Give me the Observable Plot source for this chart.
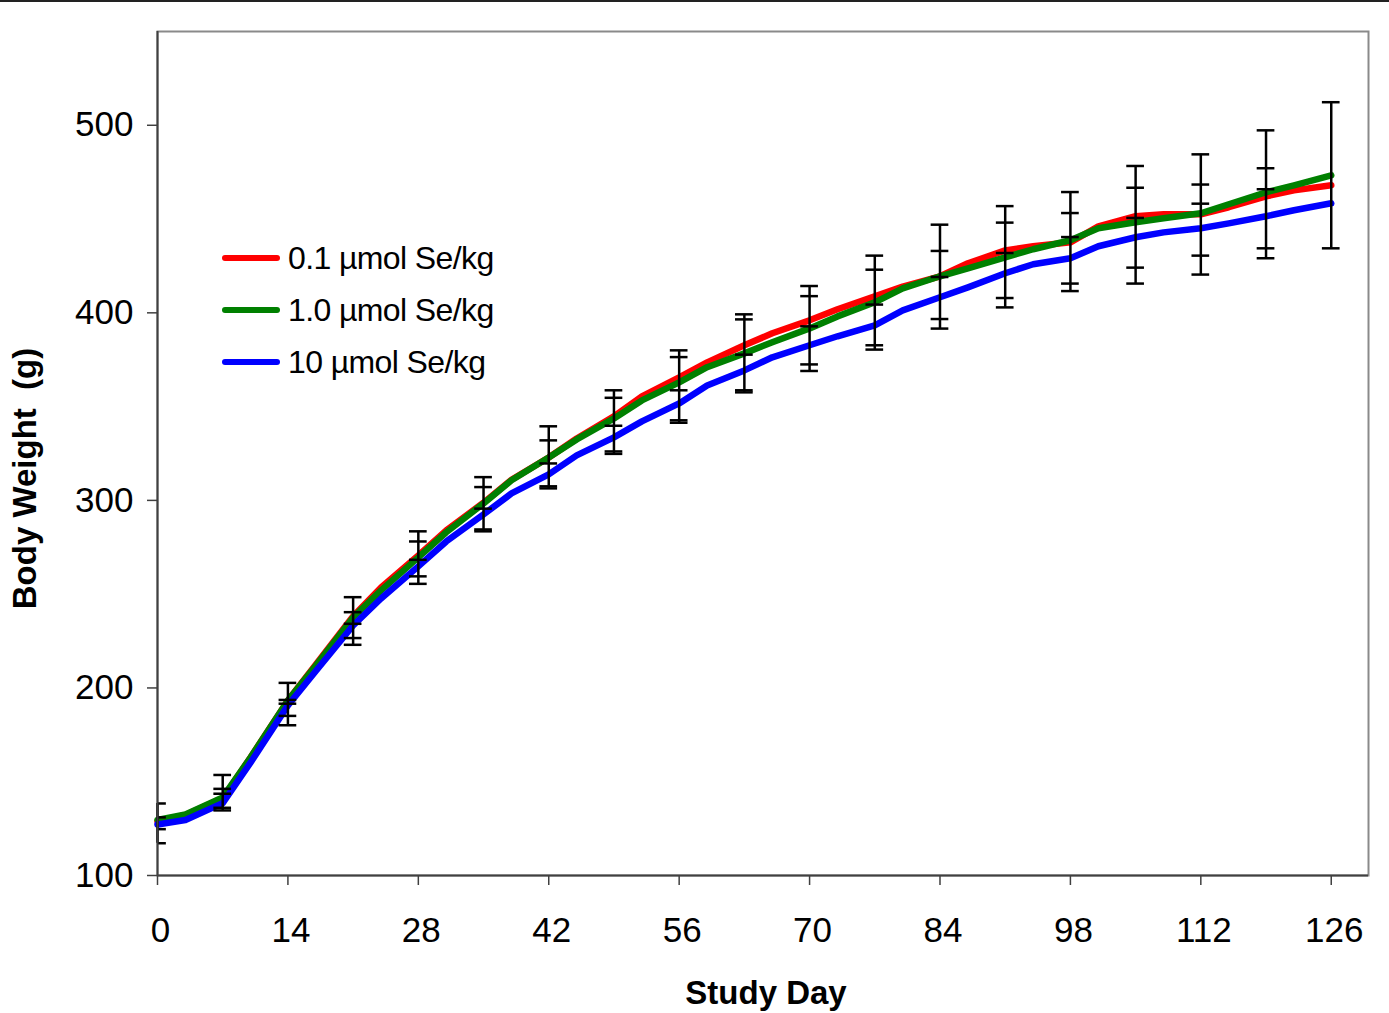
<!DOCTYPE html>
<html>
<head>
<meta charset="utf-8">
<script src="https://cdn.jsdelivr.net/npm/d3@7"></script>
<script src="https://cdn.jsdelivr.net/npm/@observablehq/plot@0.6"></script>
<style>
  body { margin: 0; background: #fff; }
  #wrap { position: relative; width: 1389px; height: 1013px; font-family: "Liberation Sans", Arial, sans-serif; overflow: hidden; }
  #topline { position: absolute; left: 0; top: 0; width: 1389px; height: 2px; background: #222; }
  #legend { position: absolute; left: 222px; top: 232px; }
  .row { display: flex; align-items: center; height: 52px; }
  .sw { width: 58px; height: 6px; border-radius: 3px; margin-right: 8px; }
  .lab { font-size: 32px; letter-spacing: -0.6px; color: #000; white-space: pre; }
</style>
</head>
<body>
<div id="wrap"><div id="chart"></div><div id="topline"></div><div id="legend"></div></div>
<script>
// ---- data ----
const days = [0,3,7,10,14,17,21,24,28,31,35,38,42,45,49,52,56,59,63,66,70,73,77,80,84,87,91,94,98,101,105,108,112,115,119,122,126];
const seRed   = [128.8,132.3,141.2,163.0,193.3,212.5,238.2,253.6,270.7,284.0,298.8,311.0,322.9,333.0,344.8,355.5,365.6,373.6,382.7,389.1,396.0,401.9,408.8,414.0,419.5,426.4,433.3,435.5,437.6,446.1,451.5,452.5,452.5,456.3,462.1,465.3,468.0];
const seGreen = [129.6,132.5,141.6,163.0,193.3,212.0,237.6,252.0,269.6,283.0,298.4,310.7,322.9,332.5,343.7,353.3,362.9,371.0,378.4,384.3,391.7,398.1,405.6,413.0,419.5,423.7,429.6,433.9,438.7,445.1,448.3,450.4,453.1,457.9,464.3,468.0,473.3];
const seBlue  = [127.2,129.6,138.6,160.3,190.7,209.0,233.3,247.7,264.8,278.1,292.5,303.7,313.9,324.0,333.6,342.1,351.7,361.3,369.3,376.3,382.7,387.5,393.3,401.3,408.3,413.6,421.1,425.9,429.1,435.5,440.3,442.9,445.1,447.7,451.5,454.7,458.4];
const seriesNames  = ["0.1 \u00b5mol Se/kg", "1.0 \u00b5mol Se/kg", "10 \u00b5mol Se/kg"];
const seriesColors = ["#ff0000", "#008000", "#0000ff"];

// error bar caps read per weekly study day
const errDays = [0,7,14,21,28,35,42,49,56,63,70,77,84,91,98,105,112,119,126];
const errCaps = [
  [138.4,131.0,124.7,117.2],
  [153.6,146.2,143.6,136.1,134.7],
  [202.7,193.6,191.6,185.1,180.1],
  [248.4,240.4,234.2,226.6,223.0],
  [283.5,278.1,268.3,259.5,255.5],
  [312.4,307.1,295.6,284.5,283.5],
  [339.5,332.0,319.7,307.5,306.4],
  [358.7,354.7,339.8,326.1,324.8],
  [380.0,376.4,358.7,342.7,341.4],
  [399.2,396.5,377.7,358.7,357.6],
  [414.3,408.9,392.8,372.5,369.0],
  [430.5,423.0,404.4,382.7,380.4],
  [447.0,433.0,419.1,396.7,391.6],
  [456.9,448.1,431.9,407.9,402.9],
  [464.4,453.2,440.4,415.6,411.6],
  [478.3,466.7,450.6,424.1,415.6],
  [484.5,468.4,458.2,430.5,420.4],
  [497.3,477.1,465.9,434.4,429.1],
  [512.3,434.4]
];
const xTicks = [0,14,28,42,56,70,84,98,112,126];
const yTicks = [100,200,300,400,500];
const xTitle = "Study Day";
const yTitle = "Body Weight\u00a0 (g)";

// ---- build ----
const seriesValues = [seRed, seGreen, seBlue];
const lineData = seriesValues.map(vals => days.map((d, i) => ({day: d, w: vals[i]})));
const errRecs = errDays.map((d, i) => ({day: d, lo: d3.min(errCaps[i]), hi: d3.max(errCaps[i])}));
const capRecs = errDays.flatMap((d, i) => errCaps[i].map(v => ({day: d, v})));
const capHalf = 0.95; // days

const chart = Plot.plot({
  width: 1389, height: 1013,
  marginLeft: 157, marginRight: 21, marginTop: 31, marginBottom: 138,
  style: {fontFamily: "'Liberation Sans', Arial, sans-serif", background: "#fff", color: "#000"},
  x: {domain: [0, 130]},
  y: {domain: [100, 550]},
  marks: [
    Plot.frame({stroke: "#8a8a8a", strokeWidth: 2}),
    Plot.axisX({ticks: xTicks, tickSize: 10, stroke: "#404040", strokeWidth: 1.5, label: null, tickFormat: () => ""}),
    Plot.axisX({ticks: xTicks, tickSize: 0, tickPadding: 42, dx: 3, fontSize: 35, fill: "#000", label: null, tickFormat: d => String(d)}),
    Plot.axisY({ticks: yTicks, tickSize: 10, tickPadding: 14, fontSize: 35, stroke: "#404040", strokeWidth: 1.5, fill: "#000", label: null, tickFormat: d => String(d)}),
    ...lineData.map((data, k) => Plot.line(data, {x: "day", y: "w", stroke: seriesColors[k], strokeWidth: 6.5, strokeLinecap: "round", strokeLinejoin: "round"})),
    Plot.ruleX(errRecs, {x: "day", y1: "lo", y2: "hi", stroke: "#000", strokeWidth: 2.5}),
    Plot.ruleY(capRecs, {y: "v", x1: d => d.day - capHalf, x2: d => d.day + capHalf, stroke: "#000", strokeWidth: 2.5, clip: true}),
    Plot.ruleX([0], {stroke: "#404040", strokeWidth: 2}),
    Plot.ruleY([100], {stroke: "#404040", strokeWidth: 2}),
    Plot.text([xTitle], {frameAnchor: "bottom", lineAnchor: "bottom", dy: 128, dx: 3, fontSize: 33, fontWeight: "bold", fill: "#000", letterSpacing: "-1px"}),
    Plot.text([yTitle], {frameAnchor: "left", textAnchor: "middle", rotate: -90, lineAnchor: "top", dx: -145, dy: 25, fontSize: 33, fontWeight: "bold", fill: "#000", letterSpacing: "-0.5px"})
  ]
});
document.getElementById("chart").appendChild(chart);

// legend (inside plot area, as in the reference)
const leg = document.getElementById("legend");
seriesNames.forEach((name, k) => {
  const row = document.createElement("div");
  row.className = "row";
  const sw = document.createElement("div");
  sw.className = "sw";
  sw.style.background = seriesColors[k];
  const lab = document.createElement("span");
  lab.className = "lab";
  lab.textContent = name;
  row.appendChild(sw); row.appendChild(lab);
  leg.appendChild(row);
});
</script>
</body>
</html>
